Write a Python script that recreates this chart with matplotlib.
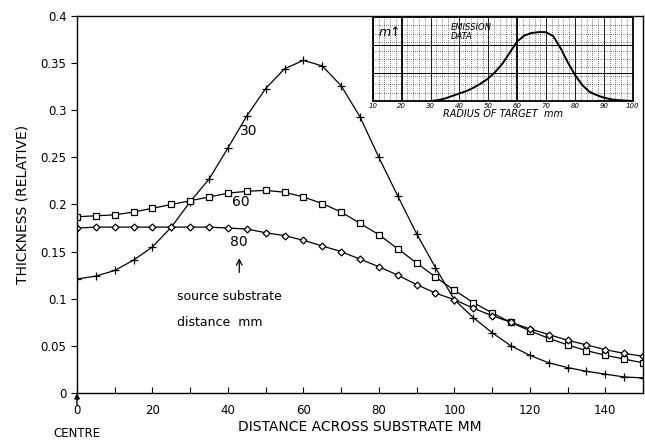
import matplotlib
matplotlib.use("Agg")
import matplotlib.pyplot as plt
import numpy as np

# distance across substrate, mm (points every 5 mm)
distance = list(range(0, 155, 5))

# source-substrate distance 30 mm
thick_30 = [0.121, 0.124, 0.130, 0.141, 0.155, 0.176, 0.203, 0.227, 0.260, 0.294,
            0.323, 0.344, 0.353, 0.347, 0.326, 0.293, 0.250, 0.209, 0.169, 0.133,
            0.099, 0.080, 0.064, 0.050, 0.040, 0.032, 0.027, 0.023, 0.020, 0.017,
            0.016]
# source-substrate distance 60 mm
thick_60 = [0.187, 0.188, 0.189, 0.192, 0.196, 0.200, 0.204, 0.208, 0.212, 0.214,
            0.215, 0.213, 0.208, 0.201, 0.192, 0.180, 0.168, 0.153, 0.138, 0.123,
            0.109, 0.096, 0.085, 0.075, 0.066, 0.058, 0.051, 0.045, 0.040, 0.036,
            0.032]
# source-substrate distance 80 mm
thick_80 = [0.175, 0.176, 0.176, 0.176, 0.176, 0.176, 0.176, 0.176, 0.175, 0.174,
            0.170, 0.167, 0.162, 0.156, 0.150, 0.142, 0.134, 0.125, 0.115, 0.106,
            0.099, 0.090, 0.082, 0.075, 0.068, 0.062, 0.056, 0.051, 0.046, 0.042,
            0.039]

# inset: emission data vs radius of target
radius = [30, 32.5, 35, 37.5, 40, 42.5, 45, 47.5, 50, 52.5, 55, 57.5, 60, 62.5, 65,
          67.5, 70, 72.5, 75, 77.5, 80, 82.5, 85, 87.5, 90, 92.5, 95, 97.5, 100]
emission = [0.0, 0.01, 0.03, 0.06, 0.09, 0.12, 0.16, 0.21, 0.27, 0.35, 0.45, 0.58,
            0.71, 0.78, 0.81, 0.82, 0.82, 0.77, 0.63, 0.46, 0.31, 0.19, 0.11, 0.07,
            0.04, 0.02, 0.01, 0.005, 0.0]

fig = plt.figure(figsize=(6.45, 4.42), dpi=100)
ax = fig.add_axes([0.1194, 0.1109, 0.8775, 0.8529])

ax.plot(distance, thick_30, color="black", lw=0.9, marker="+", ms=5.5, mew=0.9)
ax.plot(distance, thick_60, color="black", lw=0.9, marker="s", ms=4.5,
        mfc="white", mew=0.9)
ax.plot(distance, thick_80, color="black", lw=0.9, marker="D", ms=3.5,
        mfc="white", mew=0.9)

ax.set_xlim(0, 150)
ax.set_ylim(0, 0.4)
ax.set_xticks(np.arange(0, 151, 10))
ax.set_xticklabels([str(v) if v % 20 == 0 else "" for v in range(0, 151, 10)])
ax.set_yticks(np.arange(0, 0.41, 0.05))
ax.set_yticklabels(["0", "0.05", "0.1", "0.15", "0.2", "0.25", "0.3", "0.35", "0.4"])
ax.tick_params(axis="x", direction="in", length=4, labelsize=8.5, pad=8)
ax.tick_params(axis="y", direction="out", length=4, labelsize=8.5)
for s in ax.spines.values():
    s.set_linewidth(1.0)

ax.set_xlabel("DISTANCE ACROSS SUBSTRATE MM", fontsize=10, labelpad=2)
ax.set_ylabel("THICKNESS (RELATIVE)", fontsize=10, labelpad=8)

ax.text(45.5, 0.278, "30", fontsize=10, ha="center", va="center")
ax.text(43.5, 0.203, "60", fontsize=10, ha="center", va="center")
ax.text(43.0, 0.160, "80", fontsize=10, ha="center", va="center")
ax.annotate("", xy=(43.0, 0.146), xytext=(43.0, 0.125),
            arrowprops=dict(arrowstyle="->", color="black", lw=0.9))
ax.text(26.5, 0.102, "source substrate", fontsize=9, ha="left", va="center")
ax.text(26.5, 0.075, "distance  mm", fontsize=9, ha="left", va="center")

# centre arrow below the axis
ax.annotate("", xy=(0, 0.003), xytext=(0, -0.016),
            arrowprops=dict(arrowstyle="-|>", color="black", lw=1.0,
                            mutation_scale=8),
            annotation_clip=False)
ax.text(0, -0.043, "CENTRE", fontsize=8.5, ha="center", va="center", clip_on=False)

# inset with emission data
ins = fig.add_axes([0.578, 0.7715, 0.403, 0.190])
ins.plot(radius, emission, color="black", lw=1.4)
ins.set_xlim(10, 100)
ins.set_ylim(0, 1)
ins.set_xticks(np.arange(10, 101, 10))
ins.set_xticklabels([str(v) for v in range(10, 101, 10)], fontsize=5, style="italic")
ins.set_yticks([])
ins.tick_params(axis="x", length=0, pad=1.5)
for v in np.arange(10, 101, 2):
    ins.axvline(v, color="black", lw=0.5, ls=(0, (1, 2)))
for v in range(10, 101, 10):
    ins.axvline(v, color="black", lw=1.3 if v in (20, 60) else 0.6)
for v in np.arange(0.1, 1.0, 0.1):
    ins.axhline(v, color="black", lw=0.5, ls=(0, (1, 2)))
for v in (1 / 3, 2 / 3):
    ins.axhline(v, color="black", lw=0.7)
for s in ins.spines.values():
    s.set_linewidth(1.3)
ins.text(12, 0.82, "m↑", fontsize=9, ha="left", va="center", style="italic")
ins.text(37, 0.82, "EMISSION\nDATA", fontsize=6, ha="left", va="center",
         style="italic", linespacing=0.9)
ins.set_xlabel("RADIUS OF TARGET  mm", fontsize=7, style="italic", labelpad=0)

fig.savefig("out.png", dpi=100)
